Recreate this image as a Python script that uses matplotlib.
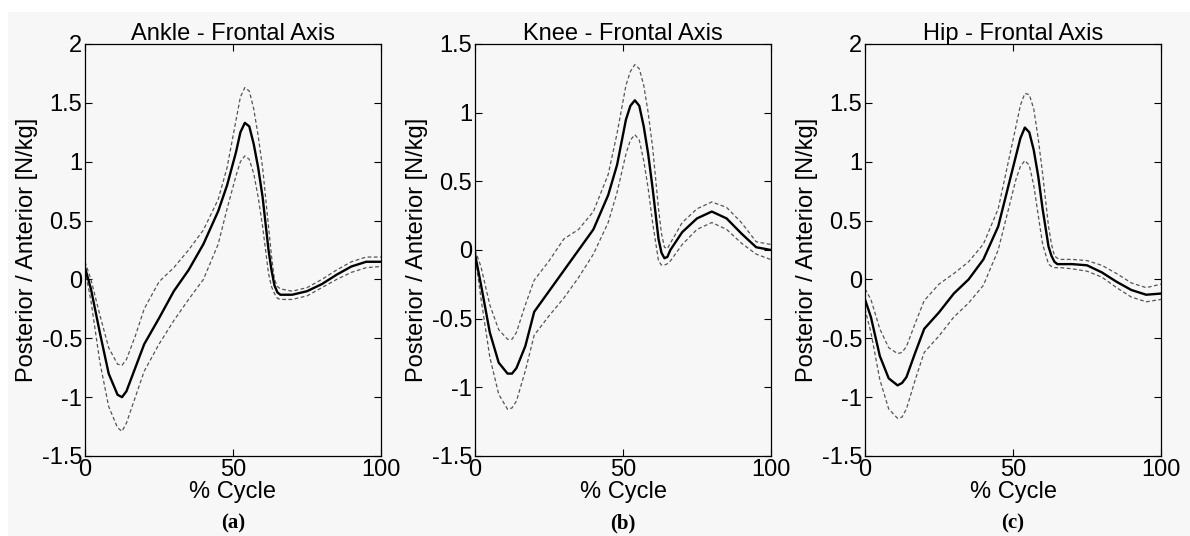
import matplotlib
matplotlib.use('Agg')
import matplotlib.pyplot as plt
from matplotlib.patches import Rectangle

# % gait cycle sample points (shared by all panels)
cycle = [0, 2, 5, 8, 11, 12.5, 14, 17, 20, 25, 30, 35, 40, 45, 48, 51, 52.5, 54,
         55.5, 57, 58.5, 60, 62, 63, 64, 65, 66, 70, 75, 80, 85, 90, 95, 100]

ankle_mean = [0.10, -0.08, -0.45, -0.80, -0.98, -1.00, -0.95, -0.75, -0.55, -0.33,
              -0.10, 0.08, 0.30, 0.58, 0.80, 1.08, 1.25, 1.33,
              1.30, 1.15, 0.95, 0.70, 0.25, 0.08, -0.05, -0.11, -0.13,
              -0.13, -0.10, -0.04, 0.04, 0.11, 0.15, 0.15]
ankle_upper = [0.15, 0.00, -0.30, -0.58, -0.72, -0.73, -0.68, -0.48, -0.25, -0.02,
               0.10, 0.25, 0.42, 0.68, 0.95, 1.35, 1.55, 1.63,
               1.60, 1.45, 1.22, 0.95, 0.45, 0.20, 0.00, -0.06, -0.08,
               -0.10, -0.07, 0.00, 0.08, 0.15, 0.19, 0.19]
ankle_lower = [0.08, -0.18, -0.70, -1.08, -1.26, -1.29, -1.22, -1.00, -0.78, -0.55,
               -0.35, -0.17, 0.00, 0.30, 0.60, 0.88, 1.00, 1.05,
               1.02, 0.90, 0.70, 0.45, 0.05, -0.06, -0.12, -0.16, -0.17,
               -0.17, -0.14, -0.07, 0.00, 0.06, 0.10, 0.11]

knee_mean = [-0.03, -0.25, -0.60, -0.82, -0.90, -0.90, -0.86, -0.70, -0.45, -0.30,
             -0.15, 0.00, 0.15, 0.40, 0.62, 0.95, 1.05, 1.09,
             1.05, 0.90, 0.70, 0.45, 0.08, -0.02, -0.06, -0.05, 0.00,
             0.13, 0.23, 0.28, 0.23, 0.12, 0.02, 0.00]
knee_upper = [0.00, -0.12, -0.40, -0.58, -0.65, -0.65, -0.60, -0.40, -0.22, -0.08,
              0.08, 0.15, 0.28, 0.55, 0.85, 1.20, 1.30, 1.35,
              1.32, 1.20, 1.00, 0.75, 0.30, 0.12, 0.02, 0.01, 0.05,
              0.20, 0.30, 0.35, 0.31, 0.20, 0.06, 0.04]
knee_lower = [-0.03, -0.35, -0.78, -1.05, -1.16, -1.15, -1.10, -0.88, -0.62, -0.48,
              -0.35, -0.20, -0.03, 0.20, 0.42, 0.70, 0.80, 0.84,
              0.80, 0.65, 0.45, 0.20, -0.08, -0.11, -0.11, -0.10, -0.08,
              0.04, 0.15, 0.20, 0.15, 0.05, -0.03, -0.07]

hip_mean = [-0.17, -0.32, -0.65, -0.84, -0.90, -0.88, -0.83, -0.62, -0.42, -0.28,
            -0.12, 0.00, 0.17, 0.45, 0.75, 1.05, 1.20, 1.29,
            1.25, 1.10, 0.88, 0.60, 0.28, 0.20, 0.15, 0.13, 0.13,
            0.13, 0.12, 0.06, -0.02, -0.09, -0.13, -0.12]
hip_upper = [-0.08, -0.17, -0.42, -0.58, -0.63, -0.62, -0.57, -0.37, -0.18, -0.04,
             0.05, 0.15, 0.30, 0.60, 0.95, 1.30, 1.48, 1.58,
             1.57, 1.45, 1.20, 0.90, 0.45, 0.30, 0.20, 0.18, 0.17,
             0.17, 0.16, 0.12, 0.05, -0.03, -0.07, -0.04]
hip_lower = [-0.25, -0.45, -0.85, -1.10, -1.18, -1.17, -1.10, -0.85, -0.62, -0.48,
             -0.32, -0.20, -0.05, 0.25, 0.55, 0.85, 0.96, 1.01,
             0.97, 0.80, 0.55, 0.30, 0.13, 0.11, 0.10, 0.10, 0.10,
             0.09, 0.07, 0.02, -0.07, -0.15, -0.19, -0.17]

titles = ['Ankle - Frontal Axis', 'Knee - Frontal Axis', 'Hip - Frontal Axis']
letters = ['(a)', '(b)', '(c)']
ylims = [(-1.5, 2), (-1.5, 1.5), (-1.5, 2)]
yticks = [[-1.5, -1, -0.5, 0, 0.5, 1, 1.5, 2],
          [-1.5, -1, -0.5, 0, 0.5, 1, 1.5],
          [-1.5, -1, -0.5, 0, 0.5, 1, 1.5, 2]]
series = [(ankle_mean, ankle_upper, ankle_lower),
          (knee_mean, knee_upper, knee_lower),
          (hip_mean, hip_upper, hip_lower)]

plt.rcParams['font.family'] = ['Liberation Sans', 'DejaVu Sans']
W, H = 1190, 536
bg = '#f7f7f7'
fig = plt.figure(figsize=(W / 100, H / 100), dpi=100, facecolor='white')
# light grey canvas, thin white margin on top and left like the scan
fig.patches.append(Rectangle((8 / W, 0), 1 - 8 / W, 1 - 12 / H,
                             transform=fig.transFigure, facecolor=bg,
                             edgecolor='none', zorder=-10))

lefts = [85, 475, 865]
for i, left in enumerate(lefts):
    ax = fig.add_axes([left / W, (H - 456) / H, 296 / W, 412 / H])
    ax.set_facecolor(bg)
    mean, upper, lower = series[i]
    ax.plot(cycle, upper, color='#555555', lw=0.9, ls=(0, (3, 2)))
    ax.plot(cycle, lower, color='#555555', lw=0.9, ls=(0, (3, 2)))
    ax.plot(cycle, mean, color='black', lw=1.7)
    ax.set_xlim(0, 100)
    ax.set_ylim(*ylims[i])
    ax.set_xticks([0, 50, 100])
    ax.set_xticklabels(['0', '50', '100'])
    ax.set_yticks(yticks[i])
    ax.set_yticklabels(['%g' % v for v in yticks[i]])
    ax.tick_params(direction='in', length=5, width=0.8, top=True, right=True,
                   labelsize=17, pad=2, colors='black')
    for s in ax.spines.values():
        s.set_linewidth(0.9)
    ax.set_title(titles[i], fontsize=17, pad=3)
    ax.set_xlabel('% Cycle', fontsize=17, labelpad=0)
    ax.set_ylabel('Posterior / Anterior [N/kg]', fontsize=17, labelpad=3)
    ax.text(0.5, (456 - 523) / 412, letters[i], transform=ax.transAxes,
            ha='center', va='center', fontsize=15, fontweight='bold',
            family=['Liberation Serif', 'DejaVu Serif'])

fig.savefig('out.png', dpi=100, facecolor=fig.get_facecolor())
